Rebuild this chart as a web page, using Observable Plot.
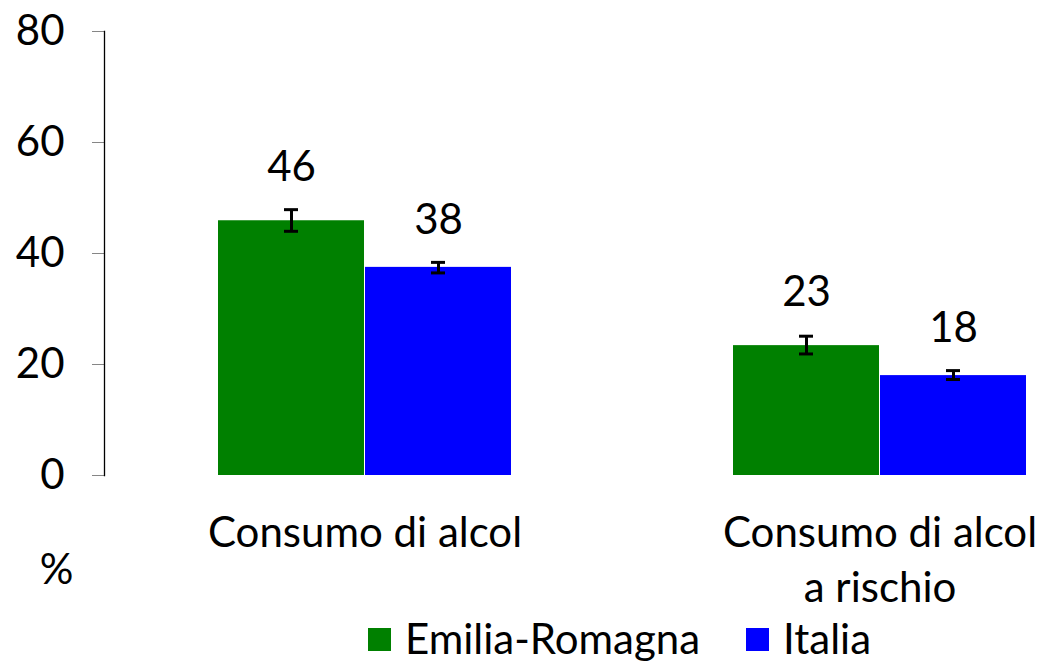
<!DOCTYPE html>
<html>
<head>
<meta charset="utf-8">
<script src="https://cdn.jsdelivr.net/npm/d3@7"></script>
<script src="https://cdn.jsdelivr.net/npm/@observablehq/plot@0.6"></script>
<style>
  html, body { margin: 0; padding: 0; background: #fff; }
  #wrap { position: relative; width: 1043px; height: 665px; overflow: hidden; font-family: Lato, "Noto Sans", sans-serif; }
  #legend { position: absolute; left: 368px; top: 616px; display: flex; align-items: center; font-size: 42px; color: #000; line-height: 44px; height: 44px; }
  .item { display: flex; align-items: center; margin-right: 46px; }
  .sw { width: 23px; height: 23px; margin-right: 14px; margin-top: 3px; }
</style>
</head>
<body>
<div id="wrap">
  <div id="chart"></div>
  <div id="legend"></div>
</div>
<script>
const categories = ["Consumo di alcol", "Consumo di alcol\na rischio"];
const series = ["Emilia-Romagna", "Italia"];
const colors = ["#008000", "#0000FF"];
const valuesER = [45.9, 23.4];
const valuesIT = [37.5, 18.0];
const lowER = [44.0, 21.9];
const highER = [47.9, 25.1];
const lowIT = [36.5, 17.3];
const highIT = [38.4, 18.9];
const yTicks = [0, 20, 40, 60, 80];

const er = categories.map((c, i) => ({cat: c, value: valuesER[i], lo: lowER[i], hi: highER[i]}));
const it = categories.map((c, i) => ({cat: c, value: valuesIT[i], lo: lowIT[i], hi: highIT[i]}));

const bw = 294, half = bw / 2, off = bw / 4, cap = 7.5;

const chart = Plot.plot({
  width: 1043,
  height: 616,
  marginTop: 31,
  marginBottom: 141,
  marginLeft: 104,
  marginRight: 0,
  style: {fontFamily: "Lato, 'Noto Sans', sans-serif", fontSize: "42px", color: "#000", background: "#fff"},
  x: {domain: categories, paddingInner: 0.4302, paddingOuter: 0.125, align: 0.876, label: null},
  y: {domain: [0, 80], label: null},
  marks: [
    Plot.barY(er, {x: "cat", y: "value", fill: colors[0], insetRight: half}),
    Plot.barY(it, {x: "cat", y: "value", fill: colors[1], insetLeft: half}),
    Plot.ruleX(er, {x: "cat", y1: "lo", y2: "hi", dx: -off, stroke: "#000", strokeWidth: 3}),
    Plot.ruleX(it, {x: "cat", y1: "lo", y2: "hi", dx: off, stroke: "#000", strokeWidth: 3}),
    Plot.tickY(er, {x: "cat", y: "lo", dx: -off, insetLeft: half - cap, insetRight: half - cap, stroke: "#000", strokeWidth: 3}),
    Plot.tickY(er, {x: "cat", y: "hi", dx: -off, insetLeft: half - cap, insetRight: half - cap, stroke: "#000", strokeWidth: 3}),
    Plot.tickY(it, {x: "cat", y: "lo", dx: off, insetLeft: half - cap, insetRight: half - cap, stroke: "#000", strokeWidth: 3}),
    Plot.tickY(it, {x: "cat", y: "hi", dx: off, insetLeft: half - cap, insetRight: half - cap, stroke: "#000", strokeWidth: 3}),
    Plot.text(er, {x: "cat", y: "value", text: d => Math.round(d.value).toString(), dx: -off, dy: -53, fontSize: 42, fill: "#000"}),
    Plot.text(it, {x: "cat", y: "value", text: d => Math.round(d.value).toString(), dx: off, dy: -47, fontSize: 42, fill: "#000"}),
    Plot.axisY({ticks: yTicks, tickSize: 12, tickPadding: 28, stroke: "#868686", fill: "#000", fontSize: 42, label: null}),
    Plot.frame({anchor: "left", stroke: "#000", strokeWidth: 1.3}),
    Plot.axisX({tickSize: 0, tickPadding: 32, fontSize: 42, lineHeight: 1.31, fill: "#000", label: null}),
    Plot.text(["%"], {frameAnchor: "bottom-left", dx: -48, dy: 95, textAnchor: "middle", lineAnchor: "middle", fontSize: 42, fill: "#000"})
  ]
});
document.getElementById("chart").appendChild(chart);

const legend = document.getElementById("legend");
series.forEach((s, i) => {
  const item = document.createElement("div");
  item.className = "item";
  const sw = document.createElement("div");
  sw.className = "sw";
  sw.style.background = colors[i];
  const lab = document.createElement("span");
  lab.textContent = s;
  item.appendChild(sw);
  item.appendChild(lab);
  legend.appendChild(item);
});
</script>
</body>
</html>
